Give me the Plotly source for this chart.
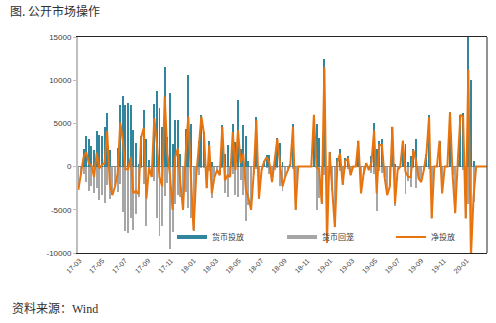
import pandas as pd
import plotly.graph_objects as go

# Weekly open-market operations (亿元), 2017-02 .. 2020-02
weeks = pd.date_range("2017-02-26", periods=157, freq="7D")

inject = [
    0, 0, 2000, 3500, 3200, 2400, 1900, 4100, 3700, 3500,
    4600, 6200, 1900, 0, 0, 2100, 7100, 8200, 7100, 7400,
    7100, 4200, 2700, 300, 3600, 6500, 3200, 750, 0, 7300,
    8700, 6800, 4600, 11500, 3400, 8500, 2600, 5400, 5400, 1500,
    0, 4400, 10600, 4900, 0, 0, 3000, 6000, 4000, 0,
    3000, 500, 0, 0, 0, 4800, 1500, 2500, 0, 4900,
    2900, 7700, 2000, 4800, 3600, 700, 0, 0, 5700, 0,
    0, 600, 1300, 1300, 0, 1200, 3300, 2700, 550, 0,
    0, 300, 4900, 0, 0, 0, 0, 0, 0, 0,
    6000, 4900, 3300, 0, 12500, 0, 1700, 0, 0, 1000,
    2000, 0, 1000, 1200, 0, 0, 0, 3000, 0, 0,
    400, 0, 1200, 5000, 2000, 3000, 3200, 0, 0, 0,
    4600, 300, 0, 0, 3000, 2600, 500, 1200, 2000, 3200,
    0, 0, 0, 1500, 6000, 0, 0, 0, 3000, 0,
    0, 0, 6300, 0, 0, 800, 6000, 6200, 0, 15500,
    10000, 600, 0, 0, 0, 0, 0,
]

withdraw = [
    -2700, -1000, -900, -1800, -2800, -2300, -3100, -2500, -3900, -3300,
    -4200, -2100, -3800, -3300, -2300, -2900, -2000, -5200, -7400, -7700,
    -6000, -7300, -5500, -3500, -200, -2000, -6900, -850, -1200, -1700,
    -6000, -8000, -6900, -3400, -1900, -9500, -7600, -4300, -3300, -3500,
    -5000, -2900, -4800, -5900, -7400, -1200, -1000, -200, -200, -2500,
    -500, -3600, -1200, -400, -1000, -200, -3100, -3500, -1200, -900,
    -3300, -3500, -1600, -3300, -6300, -4400, -5000, -800, -300, -3700,
    -400, 0, -200, -900, -1800, -400, -100, -2200, -2850, -1200,
    -500, 0, -300, -5000, 0, 0, 0, 0, 0, 0,
    0, -5000, -3600, -4300, -1000, -8800, 0, -2700, -7000, -500,
    -500, -2100, -300, -300, -1000, 0, 0, 0, -3100, -800,
    0, -400, -700, -800, -5100, -500, -700, -1200, -3300, -2300,
    0, -4600, -400, 0, 0, -3200, -1700, -2400, -100, -2500,
    -1400, -1800, -400, 0, -300, -6000, 0, 0, 0, -3100,
    0, 0, 0, -1000, -5400, 0, 0, -400, -6000, -4300,
    -20500, -4100, 0, 0, 0, 0, 0,
]

net = [
    -2700, -1000, 1100, 1700, 400, 100, -1200, 1600, -200, 200,
    400, 4100, -1900, -3300, -2300, -800, 5100, 3000, -300, -300,
    1100, -3100, -2800, -3200, 3400, 4500, -3700, -100, -1200, 5600,
    2700, -1200, -2300, 8100, 1500, -1000, -5000, 1100, 2100, -2000,
    -5000, 1500, 5800, -1000, -7400, -1200, 2000, 5800, 3800, -2500,
    2500, -3100, -1200, -400, -1000, 4600, -1600, -1000, -1200, 4000,
    -400, 4200, 400, 1500, -2700, -3700, -5000, -800, 5400, -3700,
    -400, 600, 1100, 400, -1800, 800, 3200, 500, -2300, -1200,
    -500, 300, 4600, -5000, 0, 0, 0, 0, 0, 0,
    6000, -100, -300, -4300, 11500, -8800, 1700, -2700, -7000, 500,
    1500, -2100, 700, 900, -1000, 0, 0, 3000, -3100, -800,
    400, -400, 500, 4200, -3100, 2500, 2500, -1200, -3300, -2300,
    4600, -4300, -400, 0, 3000, -600, -1200, -1200, 1900, 700,
    -1400, -1800, -400, 1500, 5700, -6000, 0, 0, 3000, -3100,
    0, 0, 6300, -1000, -5400, 800, 6000, 5800, -6000, 11200,
    -10500, -3500, 0, 0, 0, 0, 0,
]

tick_dates = pd.date_range("2017-03-01", "2020-01-01", freq="2MS")
tick_labels = [d.strftime("%y-%m") for d in tick_dates]

C_INJ = "#31859C"
C_WD = "#A6A6A6"
C_NET = "#E8740E"
BAR_W = 2.6 * 24 * 3600 * 1000  # bar width in ms

L, R, T, B = 78, 9, 37, 70
W, H = 496, 323
pw, ph = W - L - R, H - T - B

fig = go.Figure()
fig.add_bar(x=weeks, y=withdraw, width=BAR_W, marker=dict(color=C_WD, line_width=0),
            name="货币回笼", showlegend=False)
fig.add_bar(x=weeks, y=inject, width=BAR_W, marker=dict(color=C_INJ, line_width=0),
            name="货币投放", showlegend=False)
fig.add_scatter(x=weeks, y=net, mode="lines", line=dict(color=C_NET, width=2),
                name="净投放", showlegend=False)

# legend entries drawn as line samples, one legend box per entry
legend_items = [("货币投放", C_INJ, 4, "legend", 172),
                ("货币回笼", C_WD, 4, "legend2", 282),
                ("净投放", C_NET, 2, "legend3", 391)]
legend_layout = {}
for name, col, lw, lg, px in legend_items:
    fig.add_scatter(x=[None], y=[None], mode="lines", line=dict(color=col, width=lw),
                    name=name, legend=lg)
    legend_layout[lg] = dict(
        x=(px - L) / pw, y=(T + ph - 237) / ph, xanchor="left", yanchor="middle",
        bgcolor="rgba(0,0,0,0)", itemwidth=30, borderwidth=0,
        font=dict(family="Noto Sans CJK SC", size=8, color="#404040"),
    )

fig.update_layout(
    width=W, height=H,
    margin=dict(l=L, r=R, t=T, b=B, pad=0),
    paper_bgcolor="white", plot_bgcolor="white",
    barmode="overlay", bargap=0,
    font=dict(family="Liberation Sans, Noto Sans CJK SC", color="#404040"),
    title=dict(text="图. 公开市场操作", xref="container", yref="container",
               x=10 / W, y=1 - 12 / H, xanchor="left", yanchor="middle",
               font=dict(family="Noto Sans CJK SC", size=12, color="#303030")),
    showlegend=True,
    **legend_layout,
)

fig.update_xaxes(
    type="date", range=["2017-02-25", "2020-02-24"],
    tickvals=tick_dates, ticktext=tick_labels, tickangle=-45,
    tickfont=dict(size=7, color="#404040"),
    showgrid=False, zeroline=False,
    showline=True, linecolor="#262626", linewidth=1, mirror=True,
    ticks="",
)
fig.update_yaxes(
    range=[-10000, 15000], tickvals=[-10000, -5000, 0, 5000, 10000, 15000],
    ticktext=["-10000", "-5000", "0", "5000", "10000", "15000"],
    tickfont=dict(size=8, color="#404040"),
    showgrid=False,
    zeroline=True, zerolinecolor="#8c8c8c", zerolinewidth=1,
    showline=True, linecolor="#bfbfbf", linewidth=2,
    ticks="outside", ticklen=3, tickcolor="#bfbfbf", tickwidth=1,
)

# right border of the frame
fig.add_shape(type="line", xref="paper", yref="paper", x0=1, x1=1, y0=0, y1=1,
              line=dict(color="#262626", width=1))

fig.add_annotation(text="资料来源：Wind", xref="paper", yref="paper",
                   x=(10 - L) / pw, y=(T + ph - 309) / ph, xanchor="left", yanchor="middle",
                   showarrow=False,
                   font=dict(family="Liberation Serif, Noto Sans CJK SC", size=12, color="#303030"))

fig.write_html("out.html")
